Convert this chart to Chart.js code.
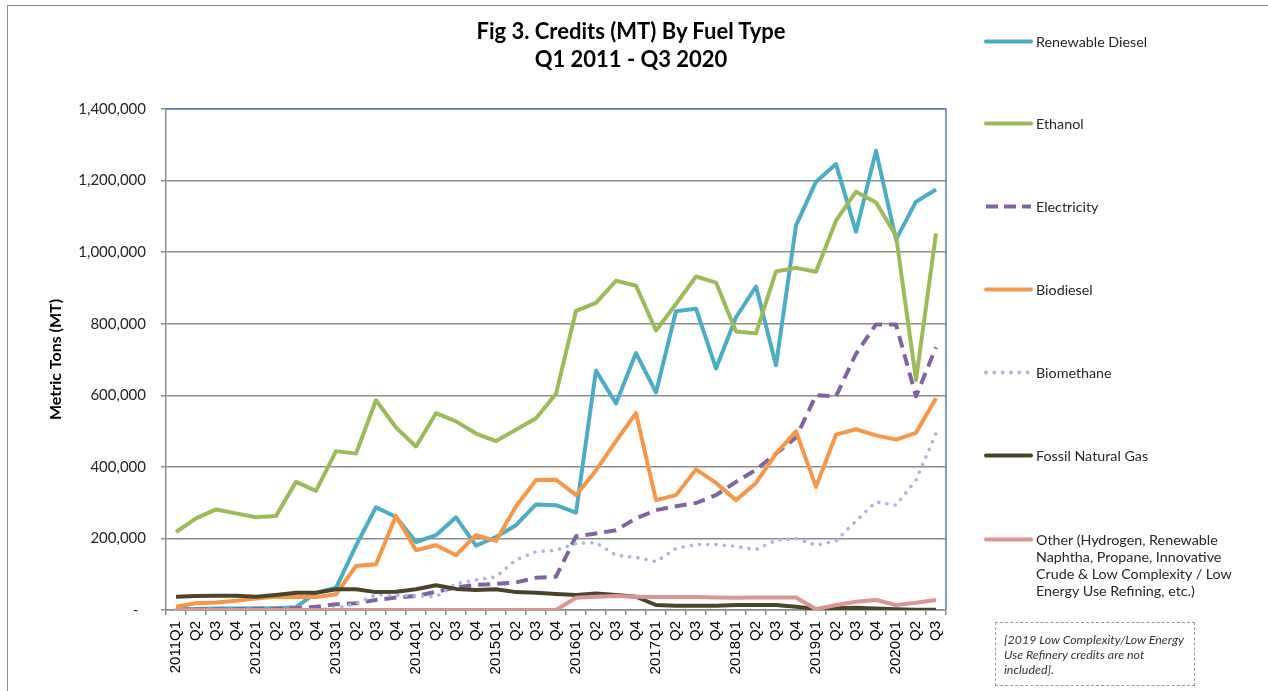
<!DOCTYPE html>
<html>
<head>
<meta charset="utf-8">
<title>Fig 3. Credits (MT) By Fuel Type</title>
<script src="https://cdn.jsdelivr.net/npm/chart.js@4.4.1/dist/chart.umd.min.js"></script>
<style>
  html, body { margin: 0; padding: 0; background: #fff; }
  #wrap { position: relative; width: 1268px; height: 691px; overflow: hidden; font-family: Lato, 'Open Sans', sans-serif; color: #262626; }
  #frame { position: absolute; left: 7px; top: 5px; width: 1300px; height: 800px; border: 1px solid #8c8c8c; }
  #chart { position: absolute; left: 0; top: 0; }
  #title { position: absolute; left: -3px; top: 17px; width: 1268px; text-align: center; font-weight: bold; font-size: 22px; line-height: 28px; color: #000; }
  .legend-item { position: absolute; left: 984px; font-size: 14.3px; line-height: 17px; }
  .legend-item svg { position: absolute; left: 0; top: 4px; }
  .legend-item span { position: absolute; left: 52px; top: 0; white-space: pre; }
  #note { position: absolute; left: 995px; top: 622px; width: 190px; height: 53px; border: 1px dashed #9a9a9a; padding: 9px 0 0 8px; font-size: 12.4px; line-height: 15px; font-style: italic; color: #333; white-space: pre; }
</style>
</head>
<body>
<div id="wrap">
  <div id="frame"></div>
  <canvas id="chart" width="1268" height="691"></canvas>
  <div id="title">Fig 3. Credits (MT) By Fuel Type<br>Q1 2011 - Q3 2020</div>
  <div id="legend"></div>
  <div id="note">[2019 Low Complexity/Low Energy
Use Refinery credits are not
included].</div>
</div>
<script>
// quarters 2011Q1 .. 2020Q3
const quarters = [
  '2011Q1', 'Q2', 'Q3', 'Q4',
  '2012Q1', 'Q2', 'Q3', 'Q4',
  '2013Q1', 'Q2', 'Q3', 'Q4',
  '2014Q1', 'Q2', 'Q3', 'Q4',
  '2015Q1', 'Q2', 'Q3', 'Q4',
  '2016Q1', 'Q2', 'Q3', 'Q4',
  '2017Q1', 'Q2', 'Q3', 'Q4',
  '2018Q1', 'Q2', 'Q3', 'Q4',
  '2019Q1', 'Q2', 'Q3', 'Q4',
  '2020Q1', 'Q2', 'Q3'
];

const seriesNames = [
  'Renewable Diesel',
  'Ethanol',
  'Electricity',
  'Biodiesel',
  'Biomethane',
  'Fossil Natural Gas',
  'Other (Hydrogen, Renewable\nNaphtha, Propane, Innovative\nCrude & Low Complexity / Low\nEnergy Use Refining, etc.)'
];

const renewableDiesel = [
  3000, 3000, 4000, 4000, 5000, 5000, 8000, 48000,
  62000, 180000, 287000, 260000, 190000, 209000, 259000, 180000,
  204000, 237000, 295000, 293000, 272000, 669000, 577000, 718000,
  608000, 835000, 842000, 675000, 818000, 904000, 684000, 1074000,
  1197000, 1246000, 1057000, 1283000, 1035000, 1141000, 1175000
];
const ethanol = [
  218000, 256000, 281000, 270000, 259000, 263000, 358000, 333000,
  444000, 437000, 586000, 510000, 457000, 550000, 527000, 493000,
  472000, 504000, 536000, 604000, 836000, 858000, 920000, 906000,
  781000, 855000, 932000, 915000, 778000, 773000, 946000, 956000,
  945000, 1088000, 1169000, 1139000, 1046000, 643000, 1052000
];
const electricity = [
  1000, 1500, 2000, 2500, 3000, 3500, 5000, 9000,
  16000, 19000, 28000, 35000, 39000, 51000, 63000, 70000,
  73000, 77000, 90000, 93000, 206000, 214000, 223000, 256000,
  279000, 290000, 299000, 321000, 358000, 392000, 437000, 482000,
  600000, 597000, 716000, 798000, 798000, 597000, 734000
];
const biodiesel = [
  9000, 19000, 21000, 26000, 32000, 37000, 36000, 36000,
  44000, 123000, 128000, 263000, 167000, 181000, 153000, 209000,
  193000, 290000, 363000, 364000, 321000, 390000, 472000, 550000,
  307000, 321000, 393000, 355000, 307000, 355000, 437000, 499000,
  344000, 490000, 505000, 488000, 476000, 495000, 592000
];
const biomethane = [
  1000, 1000, 1000, 1000, 1000, 1000, 1000, 1000,
  4000, 18000, 42000, 41000, 39000, 37000, 73000, 84000,
  93000, 140000, 163000, 167000, 186000, 188000, 153000, 147000,
  135000, 172000, 183000, 183000, 178000, 169000, 195000, 200000,
  181000, 193000, 249000, 302000, 293000, 363000, 493000
];
const fossilNaturalGas = [
  37000, 39000, 40000, 40000, 37000, 42000, 48000, 48000,
  58000, 58000, 50000, 51000, 58000, 69000, 59000, 56000,
  58000, 50000, 48000, 45000, 42000, 46000, 42000, 37000,
  14000, 12000, 12000, 12000, 14000, 14000, 14000, 9000,
  3000, 5000, 6000, 4000, 2000, 1000, 1000
];
const other = [
  0, 0, 0, 0, 0, 0, 0, 0,
  0, 0, 0, 0, 0, 0, 0, 0,
  0, 0, 0, 0, 34000, 37000, 39000, 37000,
  36000, 36000, 36000, 35000, 34000, 35000, 35000, 35000,
  2000, 14000, 23000, 28000, 14000, 20000, 28000
];

const yTicks = [0, 200000, 400000, 600000, 800000, 1000000, 1200000, 1400000];

const seriesData = [renewableDiesel, ethanol, electricity, biodiesel, biomethane, fossilNaturalGas, other];
const seriesColors = ['#4bacc6', '#9bbb59', '#8064a2', '#f79646', '#aab9dd', '#4a452a', '#d99694'];
const seriesDash = [[], [], [12, 7], [], [0.1, 8.2], [], []];
const legendY = [41, 123, 206, 289, 372, 455, 539];

const gridGray = '#8c8c8c';

const datasets = seriesNames.map((name, i) => ({
    label: name,
    data: seriesData[i],
    borderColor: seriesColors[i],
    backgroundColor: seriesColors[i],
    borderWidth: i === 4 ? 3.6 : 4,
    borderDash: seriesDash[i],
    borderCapStyle: i === 4 ? 'round' : 'butt',
    borderJoinStyle: 'round',
    pointRadius: 0,
    tension: 0,
    fill: false,
    order: seriesNames.length - i // later series on top, like Excel
}));

// blue frame on top and right of the plot area
const plotBorder = {
    id: 'plotBorder',
    beforeDatasetsDraw(chart) {
        const { ctx, chartArea } = chart;
        ctx.save();
        ctx.strokeStyle = '#4f81bd';
        ctx.lineWidth = 1.5;
        ctx.beginPath();
        ctx.moveTo(chartArea.left, chartArea.top);
        ctx.lineTo(chartArea.right, chartArea.top);
        ctx.lineTo(chartArea.right, chartArea.bottom);
        ctx.stroke();
        ctx.restore();
    }
};

new Chart(document.getElementById('chart'), {
    type: 'line',
    data: { labels: quarters, datasets: datasets },
    options: {
        responsive: false,
        animation: false,
        devicePixelRatio: 1,
        layout: { padding: { top: 109, right: 322, bottom: 0, left: 0 } },
        plugins: {
            legend: { display: false },
            title: { display: false },
            tooltip: { enabled: false }
        },
        scales: {
            x: {
                type: 'category',
                offset: true,
                grid: {
                    display: true,
                    drawOnChartArea: false,
                    offset: true,
                    tickLength: 5,
                    color: gridGray,
                    lineWidth: 1.5
                },
                border: { color: gridGray, width: 1.5 },
                ticks: {
                    autoSkip: false,
                    maxRotation: 90,
                    minRotation: 90,
                    padding: 6,
                    color: '#000',
                    font: { family: "'Liberation Sans', Arial, sans-serif", size: 15 }
                },
                afterFit: (scale) => { scale.height = 81; }
            },
            y: {
                min: 0,
                max: 1400000,
                afterBuildTicks: (scale) => { scale.ticks = yTicks.map(v => ({ value: v })); },
                grid: {
                    color: gridGray,
                    lineWidth: 1.5,
                    tickLength: 5
                },
                border: { color: gridGray, width: 1.5 },
                ticks: {
                    padding: 15,
                    color: '#262626',
                    font: { family: 'Lato, sans-serif', size: 15 },
                    callback: (v) => v === 0 ? '-  ' : v.toLocaleString('en-US')
                },
                title: {
                    display: true,
                    text: 'Metric Tons (MT)',
                    color: '#000',
                    padding: { top: 46, bottom: 0 },
                    font: { family: 'Lato, sans-serif', size: 16, weight: 'bold' }
                },
                afterFit: (scale) => { scale.width = 166; }
            }
        }
    },
    plugins: [plotBorder]
});

// legend on the right, built from the same series lists
const legend = document.getElementById('legend');
seriesNames.forEach((name, i) => {
    const item = document.createElement('div');
    item.className = 'legend-item';
    item.style.top = (legendY[i] - 8.5) + 'px';
    const dash = seriesDash[i].length ? seriesDash[i].join(' ') : 'none';
    const cap = (i === 4 || seriesDash[i].length === 0) ? 'round' : 'butt';
    item.innerHTML =
        '<svg width="50" height="9"><line x1="2" y1="4.5" x2="47" y2="4.5" stroke="' + seriesColors[i] +
        '" stroke-width="4" stroke-linecap="' + cap + '" stroke-dasharray="' + (i === 2 ? '12 6' : dash) + '"/></svg>' +
        '<span></span>';
    item.querySelector('span').textContent = name;
    legend.appendChild(item);
});
</script>
</body>
</html>
